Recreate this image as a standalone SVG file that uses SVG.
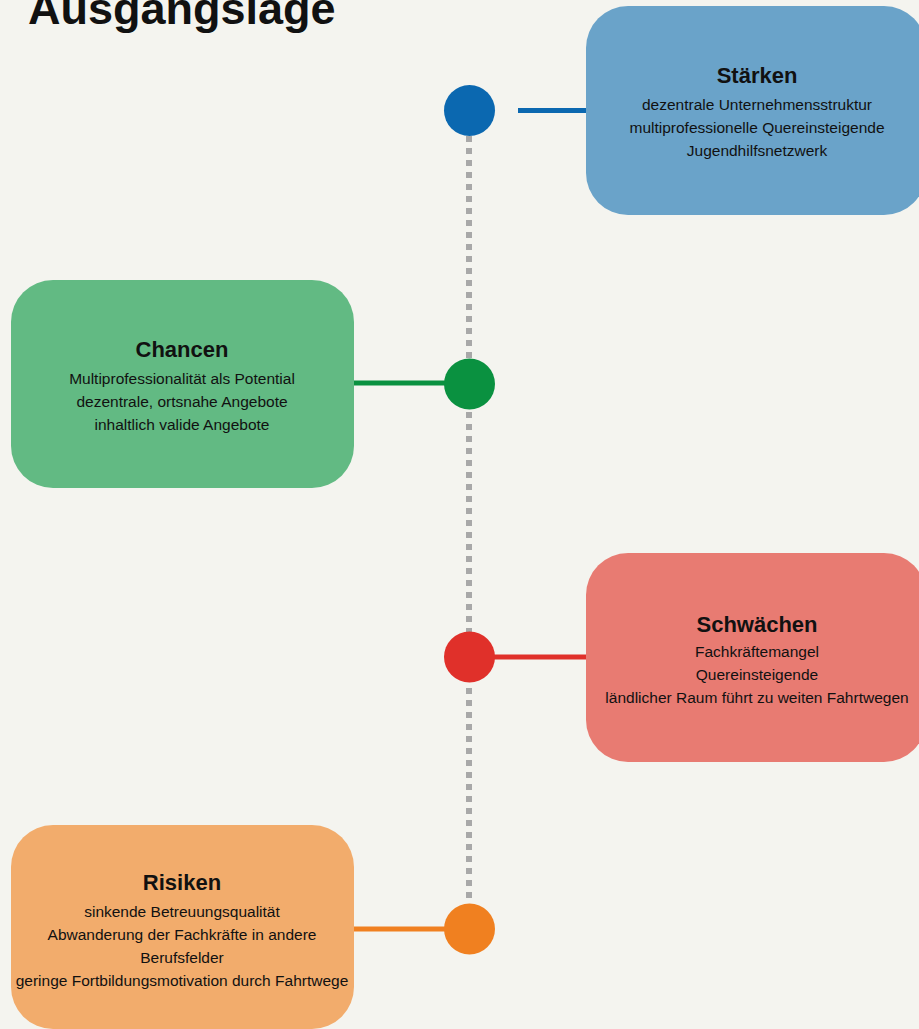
<svg xmlns="http://www.w3.org/2000/svg" width="919" height="1029" viewBox="0 0 919 1029">
<style>
text{font-family:"Liberation Sans",Arial,sans-serif;fill:#111;}
.title{font-size:45px;font-weight:bold;}
.h{font-size:22px;font-weight:bold;text-anchor:middle;}
.b{font-size:15.5px;text-anchor:middle;}
.box{stroke:none;}
</style>
<rect width="919" height="1029" fill="#f4f4ef"/>
<text class="title" x="28" y="24">Ausgangslage</text>
<g id="connectors">
<line x1="469" y1="136" x2="469" y2="904" stroke="#a8a8a8" stroke-width="6" stroke-dasharray="6 6"/>
<line x1="518" y1="110.5" x2="590" y2="110.5" stroke="#0b68b0" stroke-width="5"/>
<line x1="350" y1="383" x2="450" y2="383" stroke="#0a9140" stroke-width="5"/>
<line x1="490" y1="657" x2="590" y2="657" stroke="#e0302a" stroke-width="5"/>
<line x1="350" y1="929" x2="450" y2="929" stroke="#f08020" stroke-width="5"/>
</g>
<g id="dot-staerken"><circle cx="469.5" cy="110.5" r="25.5" fill="#0b68b0"/></g>
<g id="dot-chancen"><circle cx="469.5" cy="384" r="25.5" fill="#0a9140"/></g>
<g id="dot-schwaechen"><circle cx="469.5" cy="657" r="25.5" fill="#e0302a"/></g>
<g id="dot-risiken"><circle cx="469.5" cy="929" r="25.5" fill="#f08020"/></g>
<g id="staerken">
<rect class="box" x="586" y="6" width="340" height="209" rx="42" fill="#6aa3c9"/>
<text class="h" x="757" y="83">Stärken</text>
<text class="b" x="757" y="110">dezentrale Unternehmensstruktur</text>
<text class="b" x="757" y="133">multiprofessionelle Quereinsteigende</text>
<text class="b" x="757" y="156">Jugendhilfsnetzwerk</text>
</g>
<g id="chancen">
<rect class="box" x="11" y="280" width="343" height="208" rx="42" fill="#62ba83"/>
<text class="h" x="182" y="357">Chancen</text>
<text class="b" x="182" y="384">Multiprofessionalität als Potential</text>
<text class="b" x="182" y="407">dezentrale, ortsnahe Angebote</text>
<text class="b" x="182" y="430">inhaltlich valide Angebote</text>
</g>
<g id="schwaechen">
<rect class="box" x="586" y="553" width="340" height="209" rx="42" fill="#e87b72"/>
<text class="h" x="757" y="632">Schwächen</text>
<text class="b" x="757" y="657">Fachkräftemangel</text>
<text class="b" x="757" y="680">Quereinsteigende</text>
<text class="b" x="757" y="703">ländlicher Raum führt zu weiten Fahrtwegen</text>
</g>
<g id="risiken">
<rect class="box" x="11" y="825" width="343" height="204" rx="42" fill="#f2ac6c"/>
<text class="h" x="182" y="890">Risiken</text>
<text class="b" x="182" y="917">sinkende Betreuungsqualität</text>
<text class="b" x="182" y="940">Abwanderung der Fachkräfte in andere</text>
<text class="b" x="182" y="963">Berufsfelder</text>
<text class="b" x="182" y="986">geringe Fortbildungsmotivation durch Fahrtwege</text>
</g>
</svg>
